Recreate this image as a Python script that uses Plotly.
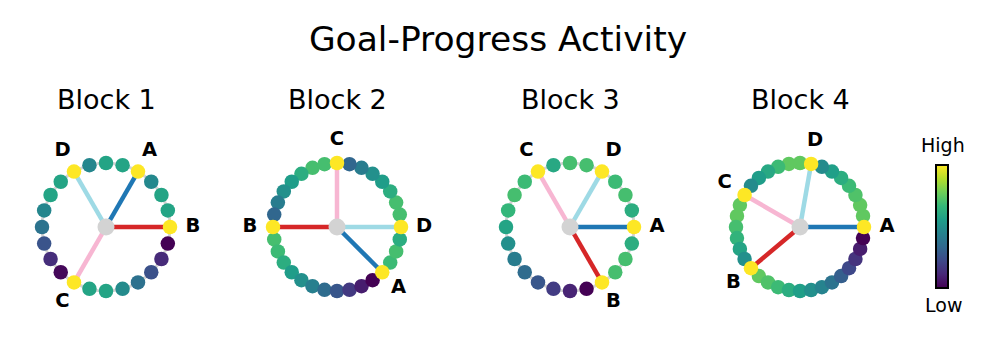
import numpy as np
import plotly.graph_objects as go

W, H = 996, 349

block_titles = ["Block 1", "Block 2", "Block 3", "Block 4"]
goal_names = ["A", "B", "C", "D"]
goal_colors = {"A": "#1f77b4", "B": "#d62728", "C": "#f7b6d2", "D": "#9edae5"}

# activity values around each ring (index 0 at 0 deg, counter-clockwise)
block1_values = [1.0, 0.58, 0.58, 0.47, 1.0, 0.58, 0.58, 0.46, 1.0, 0.58, 0.58, 0.46,
                 0.38, 0.26, 0.13, 0.02, 1.0, 0.58, 0.58, 0.48, 0.37, 0.25, 0.12, 0.0]
block2_values = [1.0, 0.7, 0.7, 0.62, 0.55, 0.5, 0.42, 0.33, 1.0, 0.7, 0.7, 0.62,
                 0.55, 0.5, 0.42, 0.33, 1.0, 0.7, 0.68, 0.62, 0.55, 0.5, 0.43, 0.35,
                 0.27, 0.17, 0.08, 0.0, 1.0, 0.68, 0.7, 0.62]
block3_values = [1.0, 0.62, 0.7, 0.68, 1.0, 0.7, 0.7, 0.6, 1.0, 0.68, 0.7, 0.66,
                 0.58, 0.5, 0.42, 0.35, 0.27, 0.18, 0.1, 0.0, 1.0, 0.7, 0.7, 0.62]
block4_values = [1.0, 0.75, 0.75, 0.72, 0.68, 0.62, 0.56, 0.48, 1.0, 0.75, 0.75, 0.68,
                 0.6, 0.55, 0.48, 1.0, 0.75, 0.75, 0.7, 0.65, 0.58, 0.5, 1.0, 0.75,
                 0.72, 0.68, 0.62, 0.56, 0.5, 0.45, 0.38, 0.3, 0.22, 0.15, 0.08, 0.0]

block1_goals = {"A": 4, "B": 0, "C": 16, "D": 8}
block2_goals = {"A": 28, "B": 16, "C": 8, "D": 0}
block3_goals = {"A": 0, "B": 20, "C": 8, "D": 4}
block4_goals = {"A": 0, "B": 22, "C": 15, "D": 8}

blocks = [
    (block1_values, block1_goals),
    (block2_values, block2_goals),
    (block3_values, block3_goals),
    (block4_values, block4_goals),
]

# layout geometry (pixels)
centers_x = [106, 337, 570, 800]
center_y = 227
px_per_unit = 64
half_range = 1.5
label_r = 1.36

fig = go.Figure()
font = "DejaVu Sans"

for k, (vals, goals) in enumerate(blocks):
    n = len(vals)
    ang = 2 * np.pi * np.arange(n) / n
    x = np.cos(ang)
    y = np.sin(ang)
    xa = "x" if k == 0 else f"x{k+1}"
    ya = "y" if k == 0 else f"y{k+1}"

    t = np.linspace(0, 2 * np.pi, 300)
    fig.add_trace(go.Scatter(x=np.cos(t), y=np.sin(t), mode="lines",
                             line=dict(color="#d3d3d3", width=3),
                             hoverinfo="skip", showlegend=False, xaxis=xa, yaxis=ya))
    for g in goal_names:
        i = goals[g]
        fig.add_trace(go.Scatter(x=[0, x[i]], y=[0, y[i]], mode="lines",
                                 line=dict(color=goal_colors[g], width=4.5),
                                 hoverinfo="skip", showlegend=False, xaxis=xa, yaxis=ya))
    goal_idx = set(goals.values())
    ring_idx = [i for i in range(n) if i not in goal_idx]
    fig.add_trace(go.Scatter(
        x=x[ring_idx], y=y[ring_idx], mode="markers",
        marker=dict(size=14.5, color=[vals[i] for i in ring_idx], colorscale="Viridis",
                    cmin=0, cmax=1, line=dict(width=0)),
        showlegend=False, xaxis=xa, yaxis=ya))
    gi = [goals[g] for g in goal_names]
    fig.add_trace(go.Scatter(
        x=x[gi], y=y[gi], mode="markers",
        marker=dict(size=14.5, color=[vals[i] for i in gi], colorscale="Viridis",
                    cmin=0, cmax=1, line=dict(width=0),
                    showscale=(k == 3),
                    colorbar=dict(x=936 / W, xanchor="left", xpad=0,
                                  y=1 - 226.5 / H, yanchor="middle",
                                  len=143, lenmode="pixels", ypad=10, thickness=12,
                                  outlinecolor="black", outlinewidth=2,
                                  showticklabels=False, ticks="")),
        showlegend=False, xaxis=xa, yaxis=ya))
    fig.add_trace(go.Scatter(x=[0], y=[0], mode="markers",
                             marker=dict(size=17, color="#d3d3d3"),
                             hoverinfo="skip", showlegend=False, xaxis=xa, yaxis=ya))
    for g in goal_names:
        i = goals[g]
        fig.add_trace(go.Scatter(x=[label_r * x[i]], y=[label_r * y[i]], mode="text",
                                 text=[f"<b>{g}</b>"],
                                 textfont=dict(family=font, size=19.5, color="black"),
                                 hoverinfo="skip", showlegend=False, xaxis=xa, yaxis=ya))

    span = half_range * px_per_unit
    cx = centers_x[k]
    dom_x = [(cx - span) / W, (cx + span) / W]
    cy = H - center_y
    dom_y = [(cy - span) / H, (cy + span) / H]
    axis_common = dict(visible=False, showgrid=False, zeroline=False,
                       range=[-half_range, half_range], fixedrange=True)
    fig.layout[f"xaxis{'' if k == 0 else k+1}"] = dict(domain=dom_x, anchor=ya, **axis_common)
    fig.layout[f"yaxis{'' if k == 0 else k+1}"] = dict(domain=dom_y, anchor=xa, **axis_common)

    fig.add_annotation(text=block_titles[k], x=cx / W, y=1 - 99 / H, xref="paper", yref="paper",
                       showarrow=False, xanchor="center", yanchor="middle",
                       font=dict(family=font, size=27, color="black"))

fig.add_annotation(text="High", x=943 / W, y=1 - 145 / H, xref="paper", yref="paper",
                   showarrow=False, xanchor="center", yanchor="middle",
                   font=dict(family=font, size=19, color="black"))
fig.add_annotation(text="Low", x=943 / W, y=1 - 305 / H, xref="paper", yref="paper",
                   showarrow=False, xanchor="center", yanchor="middle",
                   font=dict(family=font, size=19, color="black"))

fig.update_layout(
    width=W, height=H,
    margin=dict(l=0, r=0, t=0, b=0),
    paper_bgcolor="white", plot_bgcolor="white",
    title=dict(text="Goal-Progress Activity", x=0.5, xanchor="center",
               y=1 - 39 / H, yanchor="middle",
               font=dict(family=font, size=34.5, color="black")),
)

fig.write_html("out.html", config={"displayModeBar": False},
               post_script="document.body.style.margin='0';")
